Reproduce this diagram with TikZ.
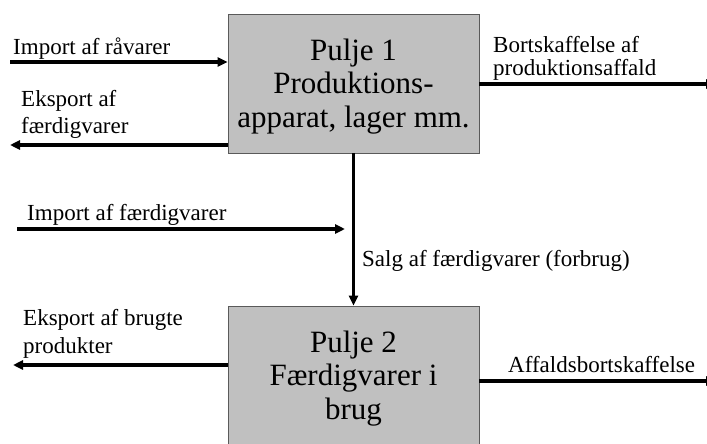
\documentclass[tikz,border=0pt]{standalone}
\usepackage{fontspec}
\setmainfont{Liberation Serif}
\usetikzlibrary{arrows.meta,positioning,calc}
\definecolor{poolgray}{RGB}{192,192,192}
\definecolor{pooledge}{RGB}{90,90,90}

\begin{document}
\begin{tikzpicture}[x=1pt, y=-1pt,
  pool/.style={draw=pooledge, fill=poolgray, line width=0.9pt,
    minimum width=251pt, minimum height=139pt, inner sep=0pt},
  pooltext/.style={align=center, inner sep=0pt,
    font=\fontsize{31}{33.5}\selectfont},
  lbl/.style={anchor=base west, align=left, inner sep=0pt,
    font=\fontsize{23}{27}\selectfont},
  flow/.style={line width=3.5pt, -{Triangle[length=10pt, width=9pt]}}]
\clip (0,0) rectangle (707,444);
% the two pools
\node[pool] (p1) at (353.5,83.5) {};
\node[pooltext, yshift=-3pt] (p1txt) at (p1.center)
  {Pulje 1\\Produktions-\\apparat, lager mm.};
\node[pool] (p2) at (353.5,375.5) {};
\node[pooltext, yshift=-3pt] (p2txt) at (p2.center)
  {Pulje 2\\Færdigvarer i\\brug};
% flows in and out of pulje 1 (label nodes sit on their last baseline)
\coordinate (rawin) at (10,62);
\draw[flow] (rawin) -- (rawin -| p1.west);
\node[lbl] (rawlbl) at (13,55) {Import af råvarer};
\coordinate (expout) at (10,145);
\draw[flow] (expout -| p1.west) -- (expout);
\node[lbl] (explbl) at (21,133) {Eksport af\\færdigvarer};
\coordinate (wasteout) at (716,84);
\draw[flow] (wasteout -| p1.east) -- (wasteout);
\node[lbl, font=\fontsize{23}{22}\selectfont] (wastelbl) at (493,75)
  {Bortskaffelse af\\produktionsaffald};
% sale down to pulje 2
\draw[flow] (p1.south) -- (p2.north);
\node[lbl] (salelbl) at (362,266) {Salg af færdigvarer (forbrug)};
\coordinate (impin) at (17,229);
\coordinate (impend) at (345,229);
\draw[flow] (impin) -- (impend);
\node[lbl] (implbl) at (27,220) {Import af færdigvarer};
% flows out of pulje 2
\coordinate (usedout) at (13,365);
\draw[flow] (usedout -| p2.west) -- (usedout);
\node[lbl, font=\fontsize{23}{28}\selectfont] (usedlbl) at (23,353)
  {Eksport af brugte\\produkter};
\coordinate (dumpout) at (716,381);
\draw[flow] (dumpout -| p2.east) -- (dumpout);
\node[lbl] (dumplbl) at (508,372) {Affaldsbortskaffelse};
\end{tikzpicture}
\end{document}
